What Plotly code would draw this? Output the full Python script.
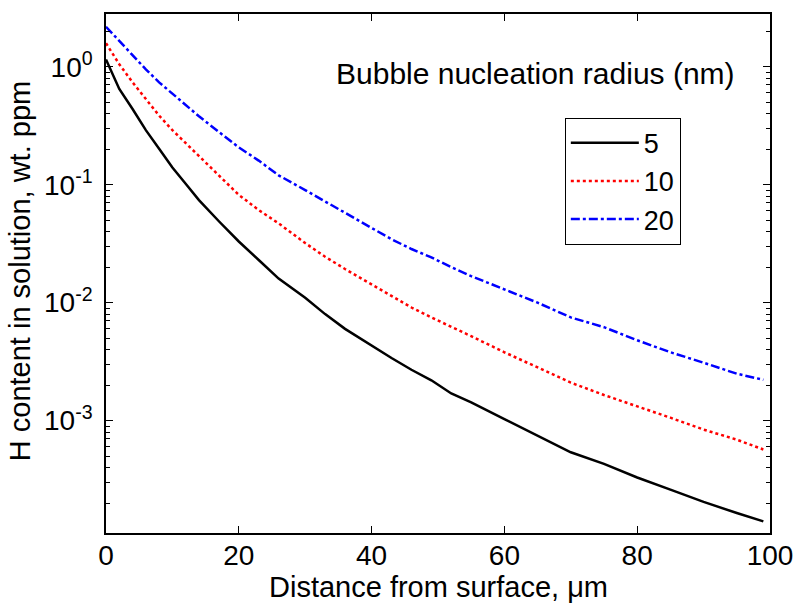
import plotly.graph_objects as go

# Distance from surface (um)
x_um = [0, 2, 4, 6, 8, 10, 12, 14, 17, 20, 23, 26, 30, 33, 36, 40, 43, 46, 49,
        52, 55, 60, 65, 70, 75, 80, 85, 90, 95, 99]

# H content (wt. ppm) for bubble nucleation radius 5 nm
h_5nm = [1.15, 0.647, 0.438, 0.29, 0.202, 0.14, 0.102, 0.074, 0.049, 0.033,
         0.023, 0.016, 0.011, 0.0080, 0.0060, 0.0043, 0.0034, 0.0027, 0.0022,
         0.0017, 0.00143, 0.00103, 0.00075, 0.00054, 0.00043, 0.00033,
         0.00026, 0.000205, 0.000165, 0.000140]

# 10 nm
h_10nm = [1.58, 1.05, 0.737, 0.532, 0.385, 0.29, 0.225, 0.172, 0.118, 0.082,
          0.061, 0.047, 0.032, 0.0245, 0.0193, 0.0143, 0.0114, 0.0091, 0.0075,
          0.0062, 0.0052, 0.0038, 0.00283, 0.0021, 0.00165, 0.00133, 0.00106,
          0.00084, 0.00069, 0.00057]

# 20 nm
h_20nm = [2.18, 1.65, 1.24, 0.95, 0.737, 0.59, 0.47, 0.38, 0.28, 0.207, 0.16,
          0.12, 0.09, 0.072, 0.057, 0.043, 0.0345, 0.0285, 0.0242, 0.0200,
          0.0168, 0.0130, 0.0100, 0.0075, 0.0062, 0.0048, 0.0038, 0.0031,
          0.0025, 0.00222]

series_names = ["5", "10", "20"]

x_tick_vals = [0, 20, 40, 60, 80, 100]
y_tick_vals = [1e-3, 1e-2, 1e-1, 1e0]
y_tick_text = ["10<sup>-3</sup>", "10<sup>-2</sup>", "10<sup>-1</sup>", "10<sup>0</sup>"]

FONT = "Liberation Sans, Arial, sans-serif"
FS_TICK = 28
FS_TITLE = 29

minor_vals = []
for e in [-4, -3, -2, -1, 0]:
    for m in range(2, 10):
        minor_vals.append(m * 10 ** e)

fig = go.Figure()
styles = [
    dict(color="black", dash="solid"),
    dict(color="#ff0000", dash="dot"),
    dict(color="#0000ff", dash="dashdot"),
]
for i, (name, ys) in enumerate(zip(series_names, [h_5nm, h_10nm, h_20nm])):
    fig.add_trace(go.Scatter(
        x=x_um, y=ys, mode="lines", name=name,
        line=dict(color=styles[i]["color"], dash=styles[i]["dash"], width=2.5),
    ))

fig.update_layout(
    width=798, height=603,
    margin=dict(l=106, r=28, t=14, b=70, autoexpand=False),
    paper_bgcolor="white", plot_bgcolor="white",
    font=dict(family=FONT, size=FS_TICK, color="black"),
    showlegend=True,
    legend=dict(
        x=0.691, y=0.80, xanchor="left", yanchor="top",
        bordercolor="black", borderwidth=1, bgcolor="white",
        font=dict(family=FONT, size=27, color="black"),
        itemwidth=68, tracegroupgap=0,
    ),
    xaxis=dict(
        range=[0, 100], tickvals=x_tick_vals, ticks="inside", ticklen=7,
        tickcolor="black", showline=True, linecolor="black", linewidth=1.5,
        mirror="ticks", showgrid=False, zeroline=False, automargin=False,
        ticklabelstandoff=-3,
        tickfont=dict(family=FONT, size=FS_TICK),
    ),
    yaxis=dict(
        type="log", range=[-3.952, 0.4466], tickvals=y_tick_vals,
        ticktext=y_tick_text, ticks="inside", ticklen=7, tickcolor="black",
        showline=True, linecolor="black", linewidth=1.5, mirror="ticks",
        showgrid=False, zeroline=False, automargin=False,
        ticklabelstandoff=6,
        minor=dict(tickvals=minor_vals, ticks="inside", ticklen=4,
                   tickcolor="black", showgrid=False),
        tickfont=dict(family=FONT, size=FS_TICK),
    ),
    annotations=[
        dict(text="Bubble nucleation radius (nm)", x=0.6466, y=0.886,
             xref="paper", yref="paper", xanchor="center", yanchor="middle",
             showarrow=False, font=dict(family=FONT, size=30, color="black")),
        dict(text="Distance from surface, μm", x=0.5, y=-0.105,
             xref="paper", yref="paper", xanchor="center", yanchor="middle",
             showarrow=False, font=dict(family=FONT, size=FS_TITLE, color="black")),
        dict(text="H content in solution, wt. ppm", x=-0.129, y=0.505,
             xref="paper", yref="paper", xanchor="center", yanchor="middle",
             textangle=-90, showarrow=False,
             font=dict(family=FONT, size=FS_TITLE, color="black")),
    ],
)

fig.write_html("out.html", config={"displayModeBar": False},
               post_script="document.body.style.margin='0';")
